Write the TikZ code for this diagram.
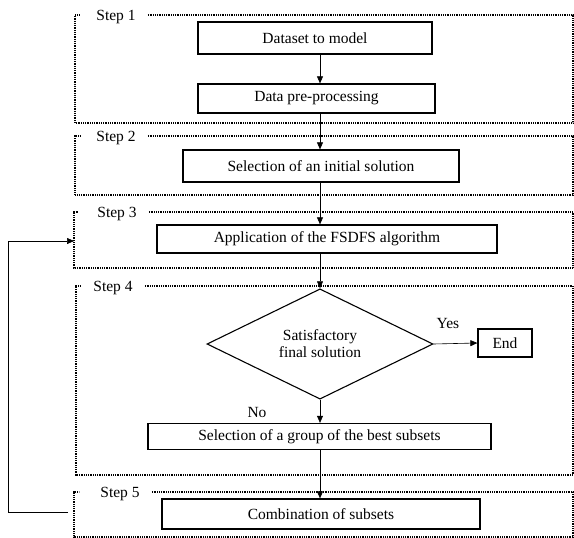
\documentclass[tikz,border=0pt]{standalone}
\usepackage{fontspec}
\setmainfont{Liberation Serif}
\usepackage{tikz}
\usetikzlibrary{shapes.geometric,arrows.meta,positioning}

\begin{document}
\begin{tikzpicture}[
    x=1pt, y=-1pt,
    font=\fontsize{15.5}{17}\selectfont,
    box/.style={rectangle, draw, line width=1.3pt, inner sep=0pt, align=center},
    decision/.style={diamond, draw, line width=1.1pt, inner sep=0pt, align=center, minimum width=226pt, minimum height=90pt},
    frame/.style={dash pattern=on 0.9pt off 0.9pt, line width=1.2pt},
    steplabel/.style={inner sep=0pt, anchor=base, yshift=-5pt},
    arrow/.style={-{Triangle[length=7pt,width=6pt]}, line width=0.6pt}
]
    \useasboundingbox (0,0) rectangle (574,538);

    % Step frames
    \foreach \n/\t/\b/\l/\lx in {1/15/123/75/116, 2/136/195/75/116, 3/212/268/74/117, 4/286/475/76/113, 5/492/537/74/120}{
        \node[steplabel] (step\n) at (\lx,\t) {Step \n};
        \draw[frame] ([xshift=12pt]step\n.east |- 0,\t) -- (573,\t) -- (573,\b) -- (\l,\b) -- (\l,\t) -- ++(5,0);
    }

    % Boxes
    \node[box, minimum width=234pt, minimum height=32pt] (data) at (315,38) {Dataset to model};
    \node[box, minimum width=237pt, minimum height=29pt] (prep) at (316.5,98.5) {Data pre-processing};
    \node[box, minimum width=276pt, minimum height=32pt] (init) at (321,166) {Selection of an initial solution};
    \node[box, minimum width=340pt, minimum height=28pt] (fsdfs) at (327,239) {Application of the FSDFS algorithm};
    \node[decision] (satis) at (320,344) {Satisfactory\\final solution};
    \node[box, minimum width=54pt, minimum height=28pt] (end) at (505,343) {End};
    \node[box, minimum width=343pt, minimum height=26pt] (sel) at (319.5,436.5) {Selection of a group of the best subsets};
    \node[box, minimum width=318pt, minimum height=30pt] (comb) at (321,514) {Combination of subsets};

    % Labels
    \node (yes) at (448,323) {Yes};
    \node (no) at (257,412) {No};

    % Feedback points
    \coordinate (fbstart) at (68,512);
    \coordinate (fbcorner) at (8,512);
    \coordinate (s3left) at (74,241);

    % Arrows
    \draw[arrow] (data.south -| 320,0) -- (prep.north -| 320,0);
    \draw[arrow] (prep.south -| 320,0) -- (init.north -| 320,0);
    \draw[arrow] (init.south -| 320,0) -- (fsdfs.north -| 320,0);
    \draw[arrow] (fsdfs.south -| 320,0) -- (satis.north);
    \draw[arrow] (satis.east) -- (end.west);
    \draw[arrow] (satis.south) -- (sel.north -| satis.south);
    \draw[arrow] (sel.south -| 320,0) -- (comb.north -| 320,0);
    \draw[arrow] (fbstart) -- (fbcorner) |- (s3left);
\end{tikzpicture}
\end{document}
